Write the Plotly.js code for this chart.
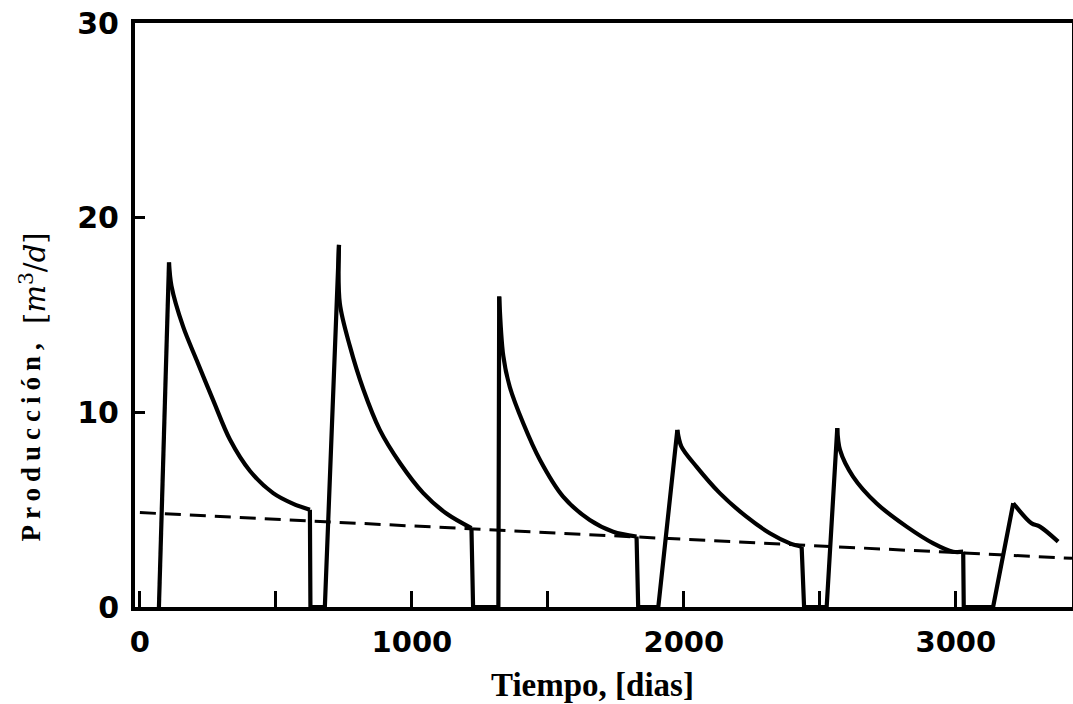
<!DOCTYPE html>
<html>
<head>
<meta charset="utf-8">
<script src="https://cdn.plot.ly/plotly-3.0.1.min.js"></script>
<style>
html,body{margin:0;padding:0;background:#fff;}
#chart{width:1073px;height:704px;}
</style>
</head>
<body>
<div id="chart"></div>
<script>
// Production (m3/d) vs time (days) - cyclic production cycles
const prodDias = [
  70, 107, 116, 159, 208, 270, 331, 404, 490, 564, 625, 627,
  680, 732, 735, 772, 821, 882, 956, 1042, 1127, 1219, 1225,
  1318, 1321, 1336, 1360, 1409, 1471, 1556, 1654, 1740, 1826, 1832,
  1906, 1976, 1991, 2047, 2132, 2230, 2316, 2390, 2433, 2442,
  2525, 2564, 2574, 2622, 2708, 2819, 2917, 2990, 3027, 3029,
  3137, 3211, 3278, 3309, 3376
];
const prodValores = [
  0, 17.7, 16.5, 14.4, 12.7, 10.6, 8.6, 7.0, 5.85, 5.3, 5.0, 0,
  0, 18.6, 15.6, 13.4, 11.2, 9.1, 7.4, 5.85, 4.8, 4.05, 0,
  0, 15.95, 12.9, 11.3, 9.45, 7.55, 5.67, 4.47, 3.87, 3.62, 0,
  0, 9.1, 8.24, 7.2, 5.85, 4.64, 3.79, 3.27, 3.1, 0,
  0, 9.19, 8.07, 6.7, 5.33, 4.13, 3.27, 2.84, 2.84, 0,
  0, 5.33, 4.3, 4.13, 3.36
];
// Dashed trend line
const limiteDias = [0, 3427];
const limiteValores = [4.85, 2.5];

const xTickVals = [0, 1000, 2000, 3000];
const xTickText = ['0', '1000', '2000', '3000'];
const yTickVals = [0, 10, 20, 30];
const yTickText = ['0', '10', '20', '30'];

const solid = {color: '#000', width: 4.2};
const traces = [];
// Split the series: straight rises/drops (incl. zero stretches) and smooth declines
(function () {
  let straightX = [], straightY = [], curveX = [], curveY = [];
  const n = prodDias.length;
  // find peak indices (local maxima)
  const isPeak = i => i > 0 && i < n - 1 && prodValores[i] > prodValores[i - 1] && prodValores[i] > prodValores[i + 1];
  let i = 0;
  let seg = {x: [prodDias[0]], y: [prodValores[0]]};
  let mode = 'straight';
  const flush = (shape) => {
    if (seg.x.length > 1) {
      traces.push({x: seg.x, y: seg.y, type: 'scatter', mode: 'lines',
        line: Object.assign({}, solid, {shape: shape, smoothing: shape === 'spline' ? 0.9 : undefined}),
        showlegend: false, hoverinfo: 'x+y'});
    }
  };
  for (i = 1; i < n; i++) {
    seg.x.push(prodDias[i]); seg.y.push(prodValores[i]);
    if (mode === 'straight' && isPeak(i)) {
      flush('linear');
      seg = {x: [prodDias[i]], y: [prodValores[i]]};
      mode = 'curve';
    } else if (mode === 'curve' && i + 1 < n && prodValores[i + 1] === 0) {
      flush('spline');
      seg = {x: [prodDias[i]], y: [prodValores[i]]};
      mode = 'straight';
    }
  }
  flush(mode === 'curve' ? 'spline' : 'linear');
})();

traces.push({
  x: limiteDias, y: limiteValores, type: 'scatter', mode: 'lines',
  line: {color: '#000', width: 3, dash: '16px,9px'}, showlegend: false
});

const xFont = {family: 'DejaVu Sans, Arial, sans-serif', size: 29, color: '#000', weight: 'bold'};
const yFont = {family: 'DejaVu Sans, Arial, sans-serif', size: 30, color: '#000', weight: 'bold'};

const layout = {
  width: 1073, height: 704,
  margin: {l: 135, r: 1, t: 23, b: 97, pad: 0},
  paper_bgcolor: '#fff', plot_bgcolor: '#fff',
  showlegend: false,
  xaxis: {
    range: [-18, 3427], showgrid: false, zeroline: false,
    showline: true, linecolor: '#000', linewidth: 4, mirror: true,
    ticks: 'inside', ticklen: 16, tickwidth: 3, tickcolor: '#000',
    tickmode: 'array', tickvals: xTickVals, ticktext: xTickText,
    minor: {tick0: 500, dtick: 1000, ticks: 'inside', ticklen: 16, tickwidth: 3, tickcolor: '#000', showgrid: false},
    tickfont: xFont, ticklabelstandoff: 6
  },
  yaxis: {
    range: [0, 30], showgrid: false, zeroline: false,
    showline: true, linecolor: '#000', linewidth: 4, mirror: true,
    ticks: 'inside', ticklen: 10, tickwidth: 3, tickcolor: '#000',
    tickmode: 'array', tickvals: yTickVals, ticktext: yTickText,
    tickfont: yFont, ticklabelstandoff: 6
  },
  annotations: [
    {
      text: '<b>Tiempo, [dias]</b>', xref: 'paper', yref: 'paper',
      x: 0.488, y: -0.133, xanchor: 'center', yanchor: 'middle', showarrow: false,
      font: {family: 'Liberation Serif, Times New Roman, serif', size: 33, color: '#000'}
    },
    {
      text: '<b>Producción,</b>', xref: 'paper', yref: 'y',
      x: -0.111, y: 8.6, xanchor: 'center', yanchor: 'middle', textangle: -90, showarrow: false,
      font: {family: 'Liberation Serif, Times New Roman, serif', size: 27, color: '#000'}
    },
    {
      text: '[<i>m</i><sup>3</sup>/<i>d</i>]', xref: 'paper', yref: 'y',
      x: -0.109, y: 16.9, xanchor: 'center', yanchor: 'middle', textangle: -90, showarrow: false,
      font: {family: 'DejaVu Serif, Liberation Serif, serif', size: 29, color: '#000'}
    }
  ]
};

Plotly.newPlot('chart', traces, layout, {displayModeBar: false, staticPlot: true}).then(function () {
  const t = document.querySelectorAll('.annotation-text');
  if (t[1]) t[1].style.letterSpacing = '6px';
});
</script>
</body>
</html>
